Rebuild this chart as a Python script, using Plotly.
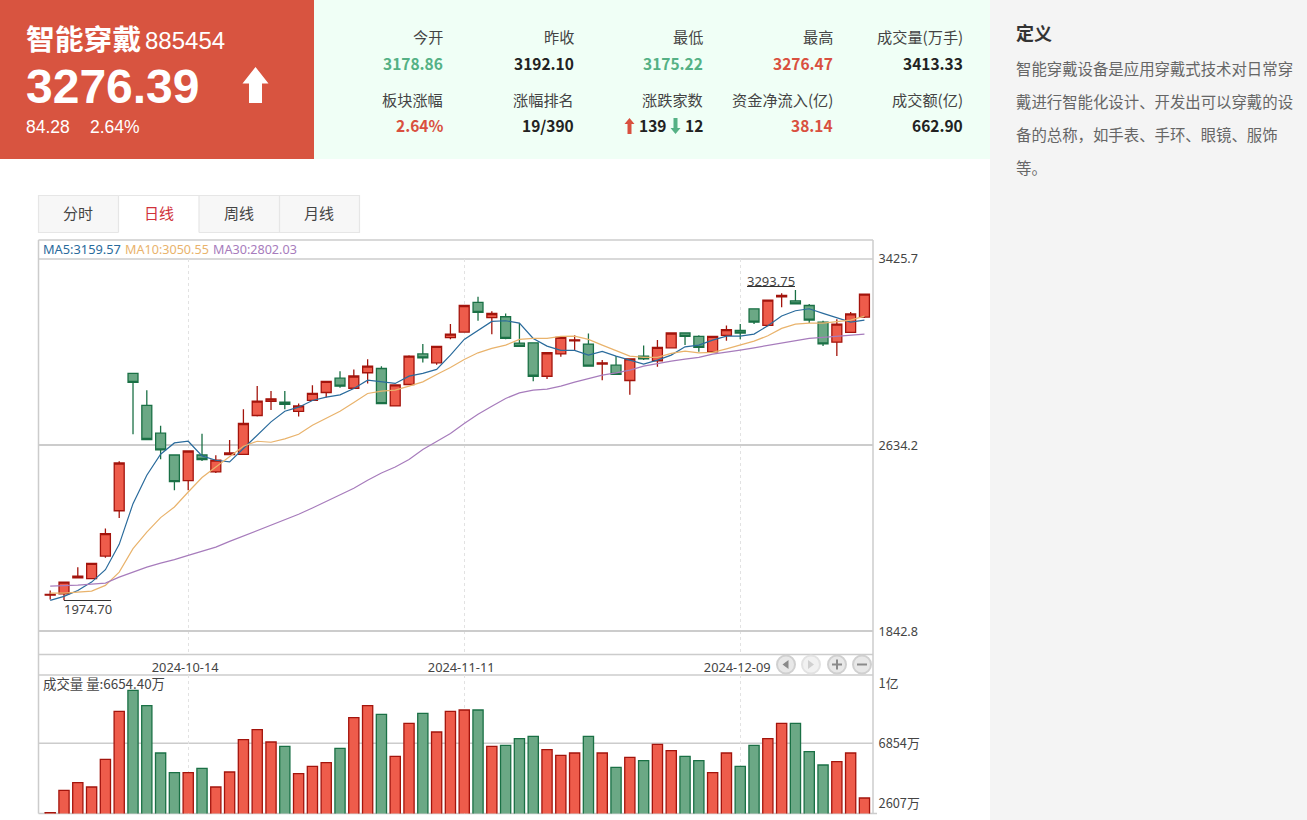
import plotly.graph_objects as go

W, H = 1307, 820

dates = ["2024-09-23","2024-09-24","2024-09-25","2024-09-26","2024-09-27","2024-09-30",
         "2024-10-08","2024-10-09","2024-10-10","2024-10-11",
         "2024-10-14","2024-10-15","2024-10-16","2024-10-17","2024-10-18",
         "2024-10-21","2024-10-22","2024-10-23","2024-10-24","2024-10-25",
         "2024-10-28","2024-10-29","2024-10-30","2024-10-31","2024-11-01",
         "2024-11-04","2024-11-05","2024-11-06","2024-11-07","2024-11-08",
         "2024-11-11","2024-11-12","2024-11-13","2024-11-14","2024-11-15",
         "2024-11-18","2024-11-19","2024-11-20","2024-11-21","2024-11-22",
         "2024-11-25","2024-11-26","2024-11-27","2024-11-28","2024-11-29",
         "2024-12-02","2024-12-03","2024-12-04","2024-12-05","2024-12-06",
         "2024-12-09","2024-12-10","2024-12-11","2024-12-12","2024-12-13",
         "2024-12-16","2024-12-17","2024-12-18","2024-12-19","2024-12-20"]

opens = [1996,2002,2070,2066,2162,2355,2939,2803,2685,2592,
         2483,2592,2520,2594,2595,2760,2820,2817,2778,2824,
         2858,2919,2876,2942,2960,2801,2892,3022,2984,3091,
         3115,3241,3176,3180,3068,3069,2927,3022,3078,3064,
         2979,2974,2909,3013,2993,3048,3111,3097,3031,3101,
         3122,3214,3143,3265,3248,3228,3157,3072,3114,3178.86]
highs = [2016,2051.5,2115,2131,2279,2565,2939,2868,2716,2594,
         2611,2683,2591,2656,2787,2886,2864,2864,2811,2889,
         2908,2948,2956,2999,2970,2893,3016,3064,3056,3149,
         3230,3265,3204,3194,3154,3072,3028,3094,3101,3109,
         2996,3013,3003,3058,3081,3113,3112,3101,3099,3143,
         3149,3216,3252,3280,3293.75,3234,3163,3169,3200,3276.47]
lows = [1978,1974.7,2070,2066,2155,2324,2680,2656,2574,2442,
        2442,2567,2516,2593,2592,2756,2784,2787,2756,2822,
        2837,2878,2873,2896,2808,2798,2889,2986,2976,3084,
        3112,3163,3106,3084,3051,2906,2915,3010,3038,2967,
        2910,2933,2848,2996,2967,3045,3060,3031,3030,3078,
        3084,3149,3140,3220,3234,3154,3056,3013,3111,3175.22]
closes = [1999,2051.5,2077,2131,2258,2558,2901,2658,2614,2479,
          2609,2573,2570,2601,2726,2821,2831,2807,2801,2854,
          2905,2885,2928,2970,2811,2890,3013,3005,3054,3106,
          3228,3199,3194,3088,3054,2927,3027,3092,3082,2970,
          2984,2935,3001,3001,3050,3111,3097,3050,3097,3125,
          3111,3157,3251,3271,3235,3166,3065,3149,3192,3276.39]
ma5 = [1974,1990.6,2016.1,2051.5,2104.3,2212,2385.3,2505.9,2595.3,2643.4,
       2650.6,2588.1,2569.7,2562.5,2619.6,2676.2,2732.9,2778.4,2795.4,2824,
       2838,2847.8,2875,2910.4,2901.9,2896.4,2927.5,2939,2956,3016.9,
       3083.7,3120.4,3160.4,3163,3153.2,3088,3055.2,3036.9,3036.9,3016.9,
       3032.6,3012.6,2995.6,2978.6,2995.6,3016.9,3052.2,3059.5,3080.8,3097.8,
       3097.8,3106.3,3141.7,3183,3205.5,3214,3194.5,3174.4,3157.4,3165.9]
ma10 = [2004.6,2004.6,2008.9,2013.2,2037.4,2094.1,2193.7,2264.4,2325.7,2370.9,
        2434.7,2496.1,2541.2,2586.8,2629.4,2650.6,2646.4,2660.5,2680.5,2718.8,
        2747.3,2778.4,2815.5,2853.8,2863.6,2867.8,2884.9,2903.2,2934.7,2964.5,
        2998.6,3026.7,3045.4,3059.5,3083.7,3088,3088,3096.5,3097.8,3083.7,
        3059.5,3035.2,3012.6,3007.1,3007.1,3024.1,3033.9,3026.7,3028.4,3043.7,
        3059.5,3076.5,3099.1,3130.6,3148.9,3153.2,3153.2,3158.7,3165.9,3183]
ma30 = [2034.4,2036.1,2038.7,2042.9,2047.2,2072.8,2094.1,2115.4,2132.4,2146.9,
        2165.2,2182.2,2200.5,2224.8,2247.4,2271.6,2292.9,2314.2,2339.8,2366.6,
        2395.1,2422,2450.5,2484.6,2515.7,2541.2,2572.7,2615.3,2650.6,2683.4,
        2726,2765.6,2799.7,2832.5,2856.3,2867.8,2872.1,2884.9,2901.9,2917.7,
        2931.8,2941.6,2953.2,2970.2,2981.6,2991.3,2999.9,3007.1,3021.1,3028.4,
        3038.2,3048,3058.2,3066.7,3077.8,3088,3092.3,3097.8,3100.8,3106.3]
volumes = [1940,3526,4069,3762,5721,9120,10606,9521,6170,4777,
           4777,5084,3762,4824,7114,7822,6948,6642,4706,5226,
           5485,6500,8671,9521,8907,5934,8270,8978,7656,9120,
           9214,9214,6642,6712,7184,7350,6406,6004,6170,7350,
           6170,5155,5863,5627,6783,6335,5934,5627,4777,6170,
           5226,6712,7184,8270,8270,6264,5320,5556,6170,2984]

price_ticks = [1842.8, 2634.2, 3425.7]
price_labels = ["1842.8", "2634.2", "3425.7"]
vol_ticks = [2607, 6854, 11055]
vol_labels = ["2607万", "6854万", "1亿"]
date_ticks = ["2024-10-14", "2024-11-11", "2024-12-09"]

stat_labels = [["今开", "昨收", "最低", "最高", "成交量(万手)"],
               ["板块涨幅", "涨幅排名", "涨跌家数", "资金净流入(亿)", "成交额(亿)"]]
stat_values = [["3178.86", "3192.10", "3175.22", "3276.47", "3413.33"],
               ["2.64%", "19/390", "12", "38.14", "662.90"]]
stat_colors = [["#55b185", "#222222", "#55b185", "#d9503f", "#222222"],
               ["#d9503f", "#222222", "#222222", "#d9503f", "#222222"]]
definition_lines = ["智能穿戴设备是应用穿戴式技术对日常穿",
                    "戴进行智能化设计、开发出可以穿戴的设",
                    "备的总称，如手表、手环、眼镜、服饰",
                    "等。"]
tabs = ["分时", "日线", "周线", "月线"]

RED, RED_L = "#ee5c4b", "#a3140c"
GREEN, GREEN_L = "#6ba885", "#1a7045"
C5, C10, C30 = "#2a6b9c", "#e9b36c", "#a77cbc"
CJK = "Noto Sans CJK SC"
ARIAL = "Liberation Sans"
CHART = "Noto Sans"
LINE = "#cccccc"


def px(x):
    return x / W


def py(y):
    return 1 - y / H


shapes, annos = [], []


def rect(x0, y0, x1, y1, fill, line=None, lw=1):
    shapes.append(dict(type="rect", xref="paper", yref="paper", x0=px(x0), x1=px(x1), y0=py(y0), y1=py(y1),
                       fillcolor=fill, line=dict(color=line or fill, width=lw if line else 0), layer="below"))


def hline(x0, x1, y, color=LINE, lw=1.5, layer="below"):
    shapes.append(dict(type="line", xref="paper", yref="paper", x0=px(x0), x1=px(x1), y0=py(y), y1=py(y),
                       line=dict(color=color, width=lw), layer=layer))


def vline(x, y0, y1, color=LINE, lw=1.5):
    shapes.append(dict(type="line", xref="paper", yref="paper", x0=px(x), x1=px(x), y0=py(y0), y1=py(y1),
                       line=dict(color=color, width=lw), layer="below"))


def poly(points, fill):
    d = "M" + " L".join(f"{px(a):.5f},{py(b):.5f}" for a, b in points) + " Z"
    shapes.append(dict(type="path", xref="paper", yref="paper", path=d, fillcolor=fill, line=dict(width=0), layer="above"))


def text(x, y, s, size=14, color="#333333", family=CJK, anchor="left", bold=False):
    annos.append(dict(xref="paper", yref="paper", x=px(x), y=py(y), text=f"<b>{s}</b>" if bold else s,
                      showarrow=False, xanchor=anchor, yanchor="middle", xshift=0, yshift=0,
                      font=dict(size=size, color=color, family=family), borderpad=0, borderwidth=0, align=anchor))


def arrow(cx, top, bottom, half_head, half_stem, head_bottom, fill):
    poly([(cx, top), (cx + half_head, head_bottom), (cx + half_stem, head_bottom), (cx + half_stem, bottom),
          (cx - half_stem, bottom), (cx - half_stem, head_bottom), (cx - half_head, head_bottom)], fill)


# page panels
rect(990, 0, 1307, 820, "#f4f4f4")
rect(0, 0, 314, 159, "#d85440")
rect(314, 0, 990, 159, "#f0fff6")

# red card
text(26, 37.5, "智能穿戴", 28.8, "#ffffff", CJK, bold=True)
text(145, 40, "885454", 24, "#ffffff", ARIAL)
text(26, 87, "3276.39", 48, "#ffffff", ARIAL, bold=True)
text(26, 127, "84.28", 17.5, "#ffffff", ARIAL)
text(90, 127, "2.64%", 17.5, "#ffffff", ARIAL)
arrow(255.5, 67, 103, 13, 6.5, 83.5, "#ffffff")

# statistic panel
col_x = [443, 574, 703, 833, 963]
for r, (ly, vy) in enumerate([(36, 63), (99, 125)]):
    for c, x in enumerate(col_x):
        text(x, ly, stat_labels[r][c], 15.2, "#444444", CJK, "right")
        text(x, vy, stat_values[r][c], 15.5, stat_colors[r][c], CJK, "right", bold=True)
text(666, 125, "139", 15.5, "#222222", CJK, "right", bold=True)
arrow(629.5, 118, 134, 5, 2, 124, "#d9503f")
arrow(675.5, 134, 118, 5, 2, 128, "#55b185")

# definition
text(1016, 32, "定义", 18, "#333333", CJK, bold=True)
for s, y in zip(definition_lines, [68, 101, 134, 167]):
    text(1016, y, s, 15.4, "#666666", CJK)

# tabs
rect(38.5, 195.5, 359.5, 232.5, "#f7f7f7", "#e6e6e6", 1.2)
rect(118.5, 195.5, 199, 233.5, "#ffffff")
hline(118.5, 199, 195.5, "#e6e6e6", 1.2)
vline(118.5, 195.5, 232.5, "#e6e6e6", 1.2)
vline(199, 195.5, 232.5, "#e6e6e6", 1.2)
vline(279.5, 195.5, 232.5, "#e6e6e6", 1.2)
for s, x in zip(tabs, [78, 159, 239, 319]):
    text(x, 212.5, s, 15, "#d0313a" if s == "日线" else "#444444", CJK, "center")

# chart frame
hline(38.5, 873, 240)
vline(38.5, 240, 813.5)
vline(873, 240, 813.5)
hline(38.5, 873, 259)
hline(38.5, 873, 654.5)
hline(38.5, 873, 675)
hline(38.5, 877, 813.5)

# legends and labels
text(43, 249.5, "MA5:3159.57", 12.8, C5, CHART)
text(125, 249.5, "MA10:3050.55", 12.6, C10, CHART)
text(213, 249.5, "MA30:2802.03", 12.6, C30, CHART)
text(43, 682.5, "成交量 量:6654.40万", 13.4, "#444444", CJK)
text(87.5, 609, "1974.70", 13, "#444444", CHART, "center")
text(771, 280.5, "3293.75", 13, "#444444", CHART, "center")
hline(64, 111, 600.5, "#333333", 1, "above")
hline(747, 795, 286.5, "#333333", 1, "above")

# navigation buttons
for cx in [786, 811, 837, 862]:
    r = 9
    shapes.append(dict(type="circle", xref="paper", yref="paper", x0=px(cx - r), x1=px(cx + r), y0=py(664.5 + r),
                       y1=py(664.5 - r), fillcolor="#e8e8e8" if cx != 811 else "#f1f1f1",
                       line=dict(color="#d0d0d0" if cx != 811 else "#e2e2e2", width=2), layer="above"))
poly([(782.5, 664.5), (788.5, 660), (788.5, 669)], "#8a8a8a")
poly([(814, 664.5), (808, 660), (808, 669)], "#cfcfcf")
poly([(832, 663.5), (836, 663.5), (836, 659.5), (838, 659.5), (838, 663.5), (842, 663.5), (842, 665.5),
      (838, 665.5), (838, 669.5), (836, 669.5), (836, 665.5), (832, 665.5)], "#8a8a8a")
poly([(857, 663.5), (867, 663.5), (867, 665.5), (857, 665.5)], "#8a8a8a")

fig = go.Figure()
fig.add_trace(go.Candlestick(x=dates, open=opens, high=highs, low=lows, close=closes, xaxis="x", yaxis="y",
                             increasing=dict(line=dict(color=RED_L, width=1.3), fillcolor=RED),
                             decreasing=dict(line=dict(color=GREEN_L, width=1.3), fillcolor=GREEN),
                             whiskerwidth=0, showlegend=False, name="K"))
for name, vals, col in [("MA5", ma5, C5), ("MA10", ma10, C10), ("MA30", ma30, C30)]:
    fig.add_trace(go.Scatter(x=dates, y=vals, mode="lines", name=name, xaxis="x", yaxis="y",
                             line=dict(color=col, width=1.2), showlegend=False))
bar_fill = [RED if c >= o else GREEN for o, c in zip(opens, closes)]
bar_line = [RED_L if c >= o else GREEN_L for o, c in zip(opens, closes)]
fig.add_trace(go.Bar(x=dates, y=volumes, xaxis="x2", yaxis="y2", width=0.74, name="成交量",
                     marker=dict(color=bar_fill, line=dict(color=bar_line, width=1.3)), showlegend=False))

# horizontal guide at the middle volume tick
shapes.append(dict(type="line", xref="x2 domain", yref="y2", x0=0, x1=1, y0=vol_ticks[1], y1=vol_ticks[1],
                   line=dict(color=LINE, width=1.5), layer="below"))

x_dom = [px(38.5), px(873)]
x_range = [-0.848, 59.62]
fig.update_layout(
    width=W, height=H, autosize=False, margin=dict(l=0, r=0, t=0, b=0, pad=0),
    paper_bgcolor="#ffffff", plot_bgcolor="rgba(0,0,0,0)", showlegend=False, hovermode=False,
    boxgap=0.18, boxgroupgap=0.12,
    shapes=shapes, annotations=annos,
    xaxis=dict(type="category", categoryorder="array", categoryarray=dates, domain=x_dom, range=x_range,
               anchor="free", position=py(654.5), side="bottom", tickmode="array", tickvals=date_ticks,
               ticktext=date_ticks, showgrid=True, gridcolor="#e2e2e2", griddash="dot", gridwidth=1,
               tickfont=dict(size=12.8, color="#444444", family=CHART), ticks="outside", ticklen=1,
               tickcolor="rgba(0,0,0,0)", showline=False, zeroline=False, rangeslider=dict(visible=False),
               automargin=False, ticklabelshift=-3),
    xaxis2=dict(type="category", categoryorder="array", categoryarray=dates, domain=x_dom, range=x_range,
                anchor="y2", tickmode="array", tickvals=date_ticks, showticklabels=False, showgrid=True,
                gridcolor="#e2e2e2", griddash="dot", gridwidth=1, showline=False, zeroline=False, ticks="",
                automargin=False),
    yaxis=dict(domain=[py(654.5), py(259)], range=[1743.6, 3425.7], side="right", anchor="x", tickmode="array",
               tickvals=price_ticks, ticktext=price_labels, showgrid=True, gridcolor=LINE, gridwidth=1.5,
               tickfont=dict(size=12.6, color="#444444", family=CHART), ticks="outside", ticklen=2,
               tickcolor="rgba(0,0,0,0)", showline=False, zeroline=False, automargin=False),
    yaxis2=dict(domain=[py(813.5), py(675)], range=[1886, 11692], side="right", anchor="x2", tickmode="array",
                tickvals=vol_ticks, ticktext=vol_labels, showgrid=False,
                tickfont=dict(size=12.8, color="#444444", family=CJK), ticks="outside", ticklen=2,
                tickcolor="rgba(0,0,0,0)", showline=False, zeroline=False, automargin=False),
)

fig.write_html("out.html", config=dict(displayModeBar=False),
               post_script="document.body.style.margin='0';document.body.style.overflow='hidden';")
